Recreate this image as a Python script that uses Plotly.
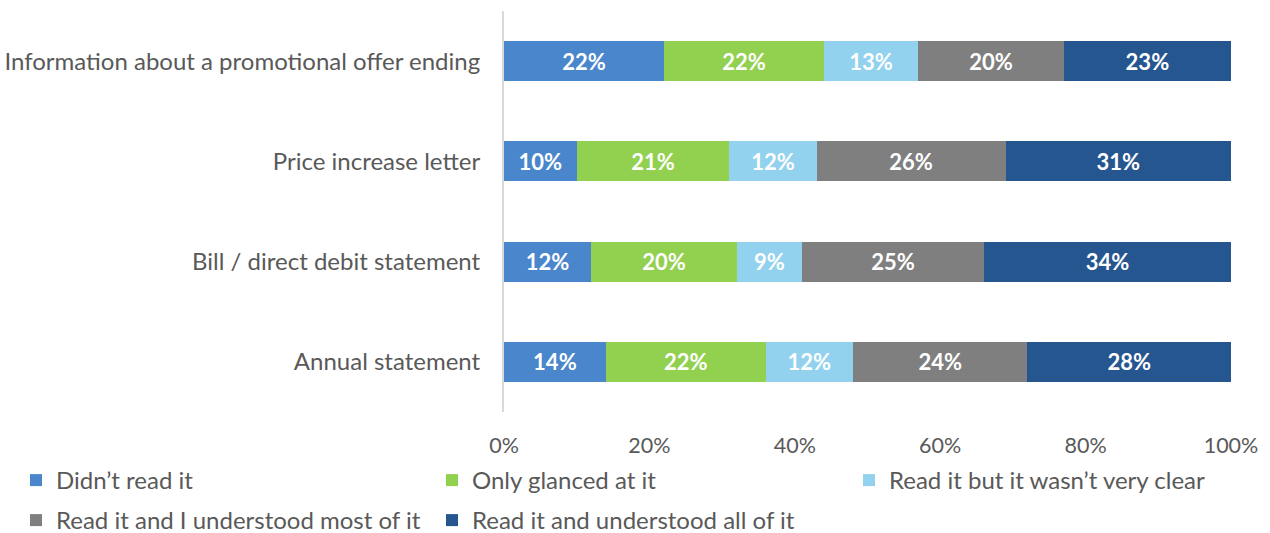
import plotly.graph_objects as go

# Survey categories (top to bottom as displayed)
categories = [
    "Information about a promotional offer ending",
    "Price increase letter",
    "Bill / direct debit statement",
    "Annual statement",
]

# Response shares (%) per category, same order as categories
didnt_read = [22, 10, 12, 14]
only_glanced = [22, 21, 20, 22]
read_not_clear = [13, 12, 9, 12]
understood_most = [20, 26, 25, 24]
understood_all = [23, 31, 34, 28]

series_names = [
    "Didn’t read it",
    "Only glanced at it",
    "Read it but it wasn’t very clear",
    "Read it and I understood most of it",
    "Read it and understood all of it",
]
series_values = [didnt_read, only_glanced, read_not_clear, understood_most, understood_all]
series_colors = ["#4A86CB", "#92D050", "#92D2EF", "#7F7F7F", "#26568F"]

x_ticks = [0, 20, 40, 60, 80, 100]
x_tick_labels = ["0%", "20%", "40%", "60%", "80%", "100%"]

FONT = "Lato, 'Open Sans', sans-serif"
TEXT_GREY = "#595959"
LABEL_SIZE = 24
W, H = 1270, 533

# Legend laid out as a 3-column grid: one legend box per entry (left px, top px)
legend_ids = ["legend", "legend2", "legend3", "legend4", "legend5"]
legend_slots = [(16, 458), (432, 458), (849, 458), (16, 498), (432, 498)]

fig = go.Figure()
for name, vals, color, lg in zip(series_names, series_values, series_colors, legend_ids):
    fig.add_trace(go.Bar(
        y=categories,
        x=vals,
        name=name,
        orientation="h",
        marker=dict(color=color, line=dict(width=0)),
        text=[f"{v}%" for v in vals],
        textposition="inside",
        insidetextanchor="middle",
        textangle=0,
        constraintext="none",
        textfont=dict(family=FONT, size=22, color="white", weight="bold"),
        legend=lg,
        hoverinfo="skip",
    ))

legend_layout = {}
for lg, (px, py) in zip(legend_ids, legend_slots):
    legend_layout[lg] = dict(
        orientation="h",
        xref="container", yref="container",
        x=px / W, y=1 - py / H,
        xanchor="left", yanchor="top",
        font=dict(family=FONT, size=LABEL_SIZE, color=TEXT_GREY),
        bgcolor="rgba(0,0,0,0)",
    )

fig.update_layout(
    barmode="stack",
    bargap=0.6,
    width=W,
    height=H,
    margin=dict(l=504, r=39, t=11, b=121, autoexpand=False),
    paper_bgcolor="white",
    plot_bgcolor="white",
    font=dict(family=FONT, size=LABEL_SIZE, color=TEXT_GREY),
    xaxis=dict(
        range=[0, 100],
        tickvals=x_ticks,
        ticktext=x_tick_labels,
        showgrid=False,
        zeroline=False,
        showline=False,
        ticks="outside",
        ticklen=14,
        tickcolor="rgba(0,0,0,0)",
        tickfont=dict(family=FONT, size=21.5, color=TEXT_GREY),
        fixedrange=True,
    ),
    yaxis=dict(
        categoryorder="array",
        categoryarray=categories[::-1],
        showgrid=False,
        zeroline=False,
        showline=True,
        linecolor="#D9D9D9",
        linewidth=2,
        ticks="outside",
        ticklen=17,
        tickcolor="rgba(0,0,0,0)",
        tickfont=dict(family=FONT, size=LABEL_SIZE, color=TEXT_GREY),
        fixedrange=True,
    ),
    showlegend=True,
    **legend_layout,
)

fig.write_html("out.html")
